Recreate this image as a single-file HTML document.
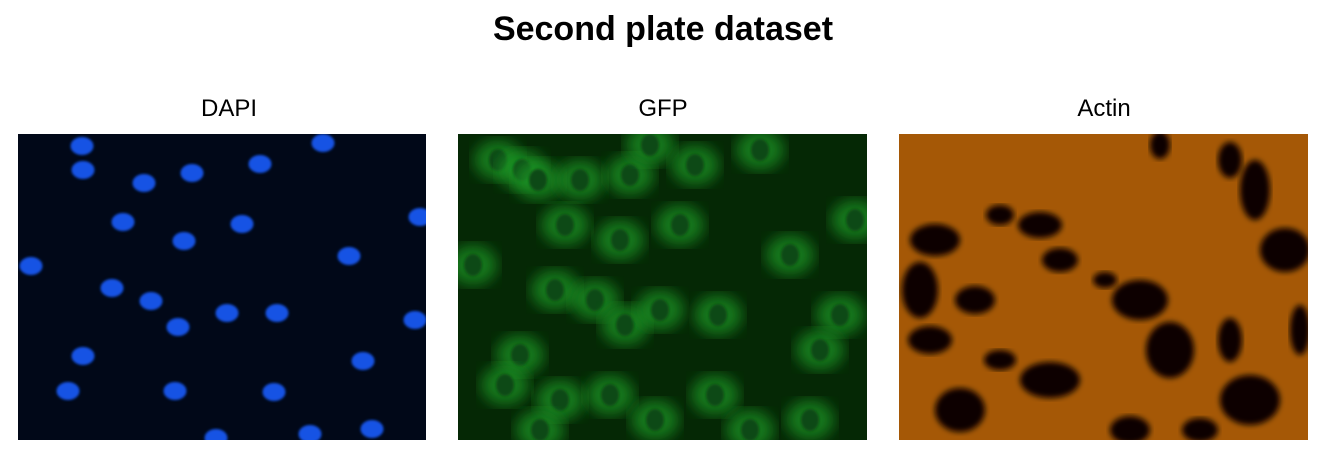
<!DOCTYPE html>
<html><head><meta charset="utf-8"><style>
body{margin:0;background:#fff;width:1326px;height:456px;overflow:hidden;font-family:"Liberation Sans",sans-serif}
</style></head><body>
<svg width="1326" height="456" id="fig">
<defs>
<filter id="b2"><feGaussianBlur stdDeviation="1.2"/></filter>
<filter id="b6"><feGaussianBlur stdDeviation="7"/></filter>
<filter id="b4"><feGaussianBlur stdDeviation="3"/></filter>
<clipPath id="c1"><rect x="18" y="134" width="408" height="306"/></clipPath>
<clipPath id="c2"><rect x="458" y="134" width="409" height="306"/></clipPath>
<clipPath id="c3"><rect x="899" y="134" width="409" height="306"/></clipPath>
</defs>
<text x="663" y="40" text-anchor="middle" font-size="34" font-weight="bold">Second plate dataset</text>
<text x="229" y="116" text-anchor="middle" font-size="24">DAPI</text>
<text x="663" y="116" text-anchor="middle" font-size="24">GFP</text>
<text x="1104" y="116" text-anchor="middle" font-size="24">Actin</text>
<rect x="18" y="134" width="408" height="306" fill="#010818"/>
<rect x="458" y="134" width="409" height="306" fill="#052805"/>
<rect x="899" y="134" width="409" height="306" fill="#a55806"/>
<g id="g1" clip-path="url(#c1)"></g>
<g id="g2" clip-path="url(#c2)"></g>
<g id="g3" clip-path="url(#c3)"></g>
</svg>
<script>
const dapi=[[82,146],[83,170],[144,183],[192,173],[260,164],[323,143],[123,222],[184,241],[242,224],[31,266],[112,288],[151,301],[349,256],[420,217],[178,327],[227,313],[277,313],[415,320],[83,356],[363,361],[68,391],[175,391],[274,392],[310,434],[372,429],[216,438]];
const gfpCells=[[498,160],[522,170],[538,180],[580,180],[565,225],[630,175],[650,145],[695,165],[680,225],[620,240],[760,150],[790,255],[855,220],[473,265],[555,290],[595,300],[625,325],[660,310],[718,315],[840,315],[820,350],[520,355],[505,385],[560,400],[610,395],[715,395],[655,420],[750,430],[810,420],[540,430]];
const actinHoles=[[935,240,25,16],[1000,215,14,10],[1040,225,22,13],[920,290,18,28],[975,300,20,14],[1060,260,18,12],[1140,300,28,20],[1105,280,12,8],[1255,190,15,30],[1285,250,25,22],[1230,160,12,18],[1170,350,24,28],[1230,340,12,22],[1050,380,30,18],[960,410,25,22],[1000,360,16,10],[1250,400,30,25],[1130,430,20,14],[1200,430,18,12],[930,340,22,14],[1300,330,10,25],[1160,145,10,14]];
const NS='http://www.w3.org/2000/svg';
function el(g,attrs){const e=document.createElementNS(NS,'ellipse');for(const k in attrs)e.setAttribute(k,attrs[k]);document.getElementById(g).appendChild(e);return e;}
dapi.forEach(p=>{const e=el('g1',{cx:p[0],cy:p[1],rx:11.5,ry:9,fill:'#1452e4',filter:'url(#b2)'});

});
gfpCells.forEach(p=>{const e=el('g2',{cx:p[0],cy:p[1],rx:24,ry:20,fill:'#1f9a26',opacity:0.7,filter:'url(#b6)'});


const n=el('g2',{cx:p[0],cy:p[1],rx:9,ry:11,fill:'#0e4812',filter:'url(#b2)'});

});
actinHoles.forEach(p=>{const e=el('g3',{cx:p[0],cy:p[1],rx:p[2],ry:p[3],fill:'#0a0400',filter:'url(#b4)'});

});
</script>
</body></html>
